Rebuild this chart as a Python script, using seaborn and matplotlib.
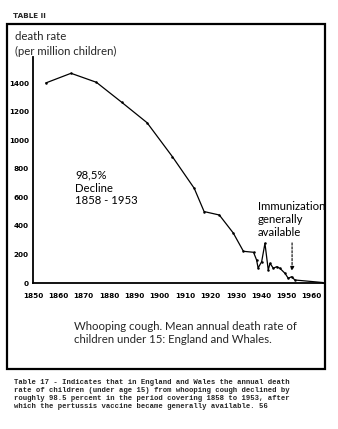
import matplotlib
matplotlib.use("Agg")
import matplotlib.pyplot as plt
from matplotlib.patches import Rectangle
import seaborn as sns
import pandas as pd

# ---- data ----
years = [1855, 1865, 1875, 1885, 1895, 1905, 1913.6, 1917.5, 1923.5, 1929, 1933, 1937,
         1938.2, 1938.8, 1940.2, 1941.5, 1942.8, 1943.5, 1944.8, 1946.1, 1947.4,
         1949.4, 1950.7, 1952, 1953.3, 1964.5]
death_rate = [1400, 1468, 1405, 1265, 1122, 884, 663, 500, 476, 350, 222, 215,
              161, 105, 149, 278, 91, 138, 103, 114, 103,
              68, 33, 44, 21, 3]
x_ticks = [1850, 1860, 1870, 1880, 1890, 1900, 1910, 1920, 1930, 1940, 1950, 1960]
y_ticks = [0, 200, 400, 600, 800, 1000, 1200, 1400]

df = pd.DataFrame({"year": years, "rate": death_rate})

sns.set_theme(style="white")
plt.rcParams['font.family'] = ['Lato', 'DejaVu Sans']

W, H = 338, 429
fig = plt.figure(figsize=(W / 100, H / 100), dpi=100)
fig.patch.set_facecolor("white")

def fx(px):
    return px / W

def fy(py):
    return 1 - py / H

ax = fig.add_axes([fx(33), fy(283), fx(323) - fx(33), fy(57) - fy(283)])
sns.lineplot(data=df, x="year", y="rate", ax=ax, color="black", linewidth=0.9,
             marker="o", markersize=1.8, markeredgewidth=0, sort=False)

ax.set_xlim(1850, 1964.4)
ax.set_ylim(0, 1582)
ax.set_xticks(x_ticks)
ax.set_yticks(y_ticks)
ax.set_xticklabels([str(t) for t in x_ticks], fontsize=5.2, fontweight="bold",
                   family="DejaVu Sans")
ax.set_yticklabels([str(t) for t in y_ticks], fontsize=5.2, fontweight="bold",
                   family="DejaVu Sans")
ax.set_xlabel("")
ax.set_ylabel("")
ax.set_facecolor("white")
ax.grid(False)
for s in ["top", "right"]:
    ax.spines[s].set_visible(False)
for s in ["left", "bottom"]:
    ax.spines[s].set_color("black")
    ax.spines[s].set_linewidth(1.3)
ax.tick_params(axis="y", direction="out", length=2, width=0.8, pad=1, colors="black")
ax.tick_params(axis="x", direction="in", length=2, width=0.8, pad=7, colors="black")

# annotations inside the plot
ax.text(1866.6, 665, "98,5%\nDecline\n1858 - 1953", fontsize=8.2, color="black",
        linespacing=1.2, va="center", ha="left")
ax.text(1938.7, 445, "Immunization\ngenerally\navailable", fontsize=8.2, color="black",
        linespacing=1.2, va="center", ha="left")
ax.annotate("", xy=(1952.2, 65), xytext=(1952.2, 300),
            arrowprops=dict(arrowstyle="-|>", linestyle=(0, (2, 1.5)), color="black",
                            lw=0.8, mutation_scale=6))

# outer frame
fig.patches.append(Rectangle((fx(7), fy(369)), fx(325) - fx(7), fy(24) - fy(369),
                             transform=fig.transFigure, fill=False, edgecolor="black",
                             linewidth=1.6))

fig.text(fx(13), fy(16), "TABLE II", fontsize=5.2, fontweight="bold",
         family="DejaVu Sans", va="center", ha="left")
fig.text(fx(15), fy(44), "death rate\n(per million children)", fontsize=8.2,
         linespacing=1.45, va="center", ha="left")
fig.text(fx(74), fy(333), "Whooping cough. Mean annual death rate of\nchildren under 15: England and Whales.",
         fontsize=8.2, linespacing=1.3, va="center", ha="left")

caption = ("Table 17 - Indicates that in England and Wales the annual death\n"
           "rate of children (under age 15) from whooping cough declined by\n"
           "roughly 98.5 percent in the period covering 1858 to 1953, after\n"
           "which the pertussis vaccine became generally available. 56")
fig.text(fx(14), fy(395), caption, fontsize=5.2, fontweight="bold",
         family="Liberation Mono", linespacing=1.2, va="center", ha="left")

fig.savefig("out.png", dpi=100, facecolor="white")
